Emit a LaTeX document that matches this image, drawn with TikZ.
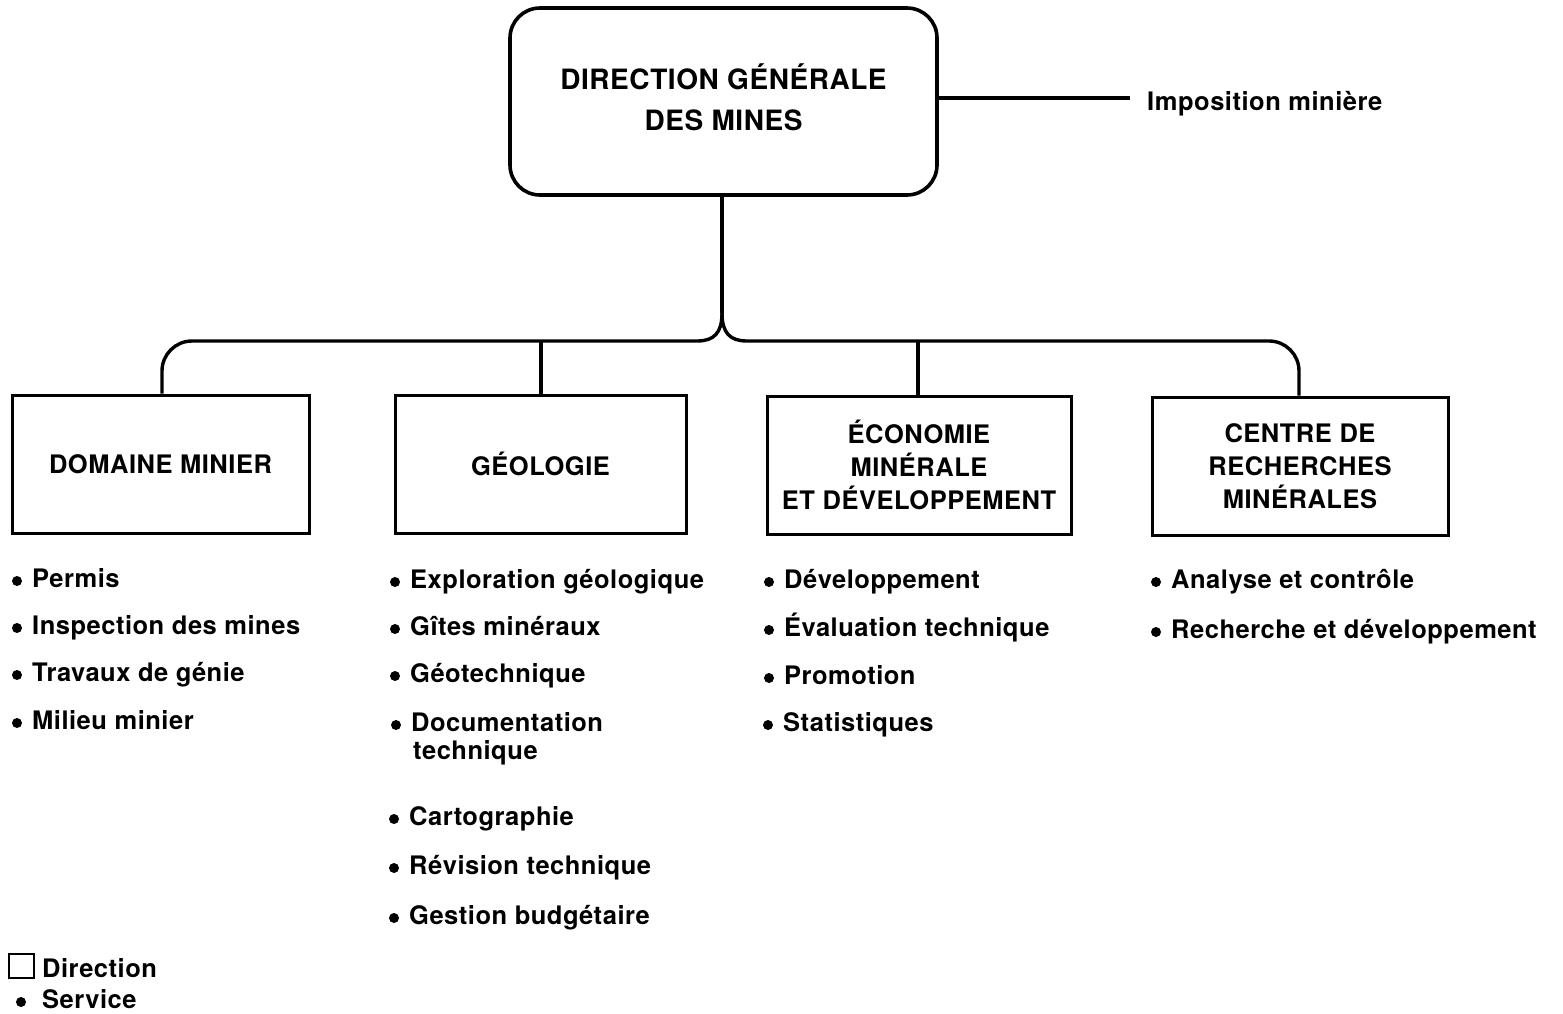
\documentclass[tikz,border=0pt]{standalone}
\usepackage{fontspec}
\setmainfont{TeX Gyre Heros}[LetterSpace=2]
\newcommand\topfont{\fontsize{28}{41}\selectfont\bfseries}
\newcommand\labfont{\fontsize{25.5}{33}\selectfont\bfseries}
% one service entry: name, x, baseline y, text
\newcommand\svc[4]{%
  \node[svc] (#1) at (#2,#3) {#4};
  \fill ([shift={(-15,-6)}]#1.base west) circle (5);}
\begin{document}
\begin{tikzpicture}[x=1pt,y=-1pt,
  conn/.style={line width=3.4pt},
  headbox/.style={draw, line width=3.6pt, rounded corners=30pt, align=center,
    font=\topfont, minimum width=427pt, minimum height=187pt, inner sep=0pt},
  dirbox/.style={draw, line width=3pt, align=center, font=\labfont,
    minimum height=138pt, inner sep=0pt},
  svc/.style={anchor=base west, font=\labfont, inner sep=0pt},
  plain/.style={anchor=base west, font=\labfont, inner sep=0pt}]
\useasboundingbox (0,0) rectangle (1563,1013);
\fill[white] (0,0) rectangle (1563,1013);

% head office
\node[headbox] (dg) at (723.5,101.5) {\raisebox{3pt}{\begin{tabular}{@{}c@{}}DIRECTION GÉNÉRALE\\[0pt]DES MINES\end{tabular}}};
\node[plain] (impo) at (1147,110) {Imposition minière};
\coordinate (impoend) at ([xshift=-17pt]impo.west);
\draw[conn] (dg.east |- 0,98) -- (impoend |- 0,98);

% directions
\node[dirbox, minimum width=297pt] (dom) at (160.5,464) {DOMAINE MINIER};
\node[dirbox, minimum width=291pt] (geo) at (540.5,464) {GÉOLOGIE};
\node[dirbox, minimum width=304pt] (eco) at (919,465) {ÉCONOMIE\\MINÉRALE\\ET DÉVELOPPEMENT};
\node[dirbox, minimum width=296pt] (crm) at (1300,466) {CENTRE DE\\RECHERCHES\\MINÉRALES};

% spine and branches
\coordinate (tip) at (722,313);
\coordinate (spL) at (697,341);
\coordinate (spR) at (747,341);
\draw[conn] (dg.south -| tip) -- (tip);
\draw[conn] (tip) .. controls (722,333) and (714,341) .. (spL)
  -- (192,341) arc[start angle=270, end angle=180, radius=30] -- (dom.north -| 162,0);
\draw[conn] (tip) .. controls (722,333) and (730,341) .. (spR)
  -- (1269,341) arc[start angle=270, end angle=360, radius=30] -- (crm.north -| 1299,0);
\draw[conn] (541,341) -- (geo.north -| 541,0);
\draw[conn] (918,341) -- (eco.north -| 918,0);

% services
\svc{d1}{32}{587}{Permis}
\svc{d2}{32}{634}{Inspection des mines}
\svc{d3}{32}{681}{Travaux de génie}
\svc{d4}{32}{729}{Milieu minier}

\svc{g1}{410}{588}{Exploration géologique}
\svc{g2}{410}{635}{Gîtes minéraux}
\svc{g3}{410}{682}{Géotechnique}
\svc{g4}{411}{731}{Documentation}
\node[plain] (g4b) at (413,759) {technique};
\svc{g5}{409}{825}{Cartographie}
\svc{g6}{409}{874}{Révision technique}
\svc{g7}{409}{924}{Gestion budgétaire}

\svc{e1}{784}{588}{Développement}
\svc{e2}{784}{636}{Évaluation technique}
\svc{e3}{784}{684}{Promotion}
\svc{e4}{783}{731}{Statistiques}

\svc{c1}{1171}{588}{Analyse et contrôle}
\svc{c2}{1171}{638}{Recherche et développement}

% legend
\node[draw, line width=2pt, minimum width=25pt, minimum height=24pt, inner sep=0pt] (legbox) at (21,966) {};
\node[plain] (legdir) at (42,977) {Direction};
\node[plain] (legsvc) at (42,1008) {Service};
\fill ([shift={(-21,-6)}]legsvc.base west) circle (5);
\end{tikzpicture}
\end{document}
